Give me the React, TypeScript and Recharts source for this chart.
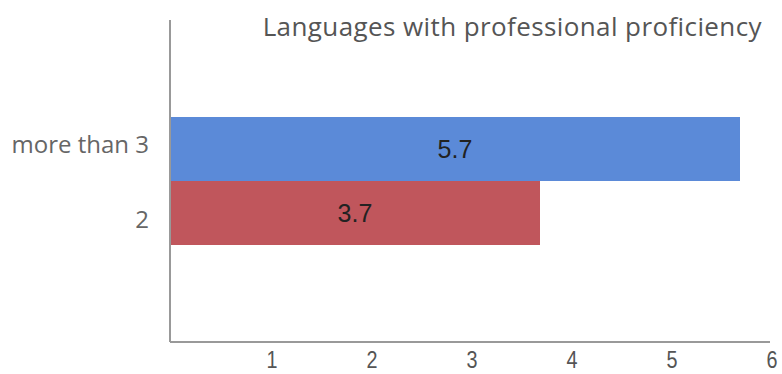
import { BarChart, Bar, XAxis, YAxis, Cell, LabelList } from 'recharts'

const categories = ['more than 3', '2']
const values = [5.7, 3.7]
const colors = ['#5b8ad8', '#c0565c']
const xTicks = [1, 2, 3, 4, 5, 6]

const data = categories.map((name, i) => ({ name, value: values[i] }))

const YTick = (props: any) => {
  const { x, y, payload, index } = props
  const dy = index === 0 ? -5 : 6
  return (
    <text x={x - 13} y={y + dy} dy="0.36em" textAnchor="end" fontFamily="'Open Sans'" fontSize={24} fill="#666">
      {payload.value}
    </text>
  )
}

const XTick = (props: any) => {
  const { x, y, payload } = props
  return (
    <g transform={`translate(${x + 2},${y + 18}) scale(0.9,1.1)`}>
      <text x={0} y={0} textAnchor="middle" fontFamily="'Liberation Sans'" fontSize={22} fill="#555">
        {payload.value}
      </text>
    </g>
  )
}

export default function App() {
  return (
    <div style={{ position: 'absolute', left: 0, top: 0, width: 782, height: 374, background: '#fff' }}>
      <div style={{ position: 'absolute', right: 20, top: 8, fontFamily: "'Open Sans'", fontSize: 26, letterSpacing: 0.4, color: '#555', whiteSpace: 'nowrap' }}>
        Languages with professional proficiency
      </div>
      <BarChart width={782} height={374} data={data} layout="vertical" margin={{ top: 20, right: 12, left: 0, bottom: 0 }} barCategoryGap={0}>
        <XAxis type="number" domain={[0, 6]} ticks={xTicks} tickLine={false} axisLine={{ stroke: '#999', strokeWidth: 2 }}
          height={32} tick={<XTick />} />
        <YAxis type="category" dataKey="name" width={170} padding={{ top: 97, bottom: 97 }} tickLine={false}
          axisLine={{ stroke: '#999', strokeWidth: 2 }} tick={<YTick />} />
        <Bar dataKey="value" isAnimationActive={false}>
          {data.map((_, i) => <Cell key={i} fill={colors[i]} />)}
          <LabelList dataKey="value" position="center" fill="#222" fontSize={25} fontFamily="'Liberation Sans'" />
        </Bar>
      </BarChart>
    </div>
  )
}
